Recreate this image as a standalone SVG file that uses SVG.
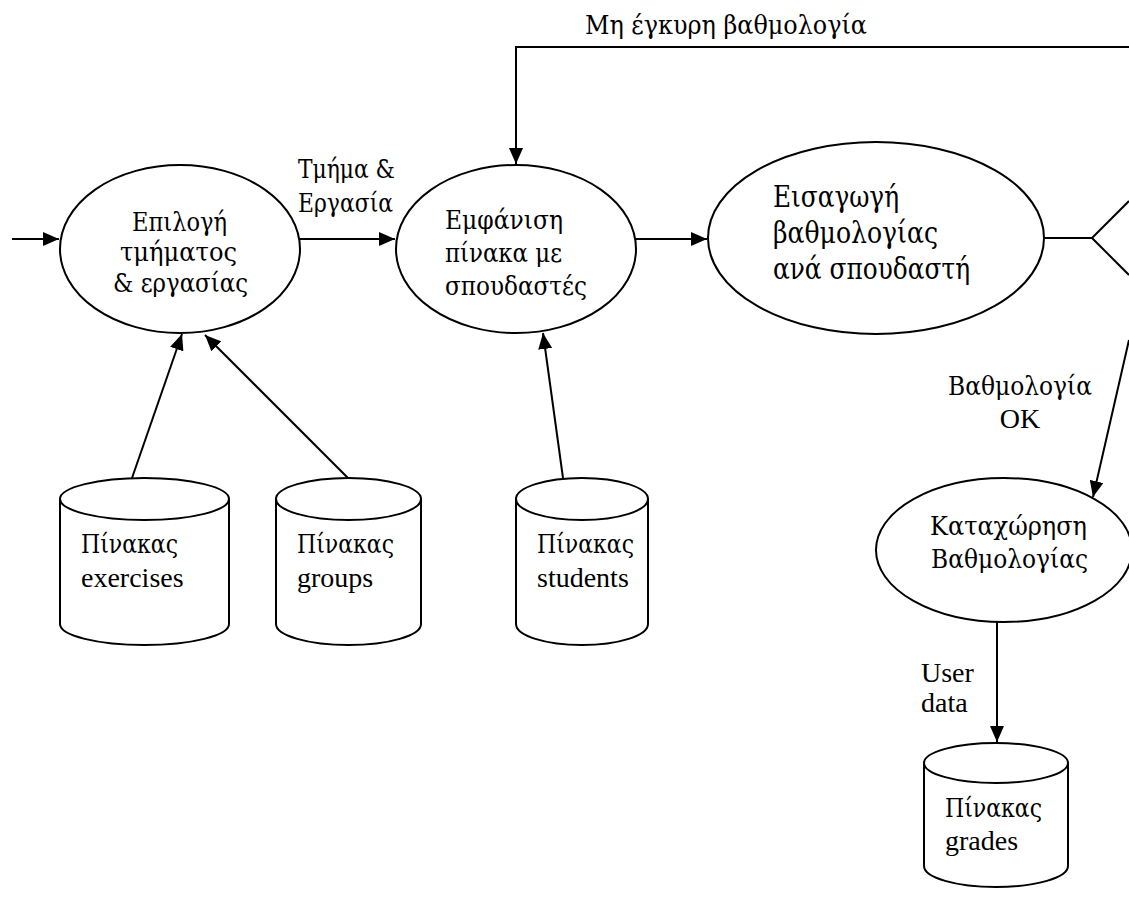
<svg xmlns="http://www.w3.org/2000/svg" width="1129" height="905" viewBox="0 0 1129 905">
<style>
.shape{fill:#fff;stroke:#000;stroke-width:2}
.ln{fill:none;stroke:#000;stroke-width:2}
text{font-family:"Liberation Serif","Times New Roman",serif;font-size:28px;fill:#000}
.gr{font-family:"DejaVu Serif","Liberation Serif",serif;font-size:26px}
.big{font-size:29px}
.c{text-anchor:middle}
</style>
<defs>
<marker id="arr" markerWidth="16" markerHeight="14" refX="16" refY="7" orient="auto" markerUnits="userSpaceOnUse">
<path d="M0,0 L16,7 L0,14 z" fill="#000"/>
</marker>
</defs>
<rect width="1129" height="905" fill="#fff"/>
<g id="connectors">
<path class="ln" d="M12,239 H59" marker-end="url(#arr)"/>
<path class="ln" d="M300,239 H395" marker-end="url(#arr)"/>
<path class="ln" d="M636,239 H707" marker-end="url(#arr)"/>
<path class="ln" d="M1129,47 H516 V164" marker-end="url(#arr)"/>
<path class="ln" d="M1044,238 H1092 L1129,201 M1092,238 L1129,275"/>
<path class="ln" d="M1129,340 L1093,497" marker-end="url(#arr)"/>
<path class="ln" d="M997,622 V742" marker-end="url(#arr)"/>
<path class="ln" d="M132,478 L182,334" marker-end="url(#arr)"/>
<path class="ln" d="M348,478 L205,335" marker-end="url(#arr)"/>
<path class="ln" d="M563,478 L543,333" marker-end="url(#arr)"/>
<text x="585" y="34" class="gr" textLength="282" lengthAdjust="spacingAndGlyphs">Μη έγκυρη βαθμολογία</text>
<text x="298" y="178" class="gr" textLength="97" lengthAdjust="spacingAndGlyphs">Τμήμα &amp;</text>
<text x="298" y="212" class="gr" textLength="95" lengthAdjust="spacingAndGlyphs">Εργασία</text>
<text x="948" y="395" class="gr" textLength="144" lengthAdjust="spacingAndGlyphs">Βαθμολογία</text>
<text x="1020" y="428" class="c">OK</text>
<text x="921" y="682">User</text>
<text x="921" y="712">data</text>
</g>
<g id="n-epilogi">
<ellipse class="shape" cx="180" cy="249" rx="120" ry="84"/>
<text x="132" y="231" class="gr" textLength="95" lengthAdjust="spacingAndGlyphs">Επιλογή</text>
<text x="120" y="261" class="gr" textLength="117" lengthAdjust="spacingAndGlyphs">τμήματος</text>
<text x="113" y="292" class="gr" textLength="135" lengthAdjust="spacingAndGlyphs">&amp; εργασίας</text>
</g>
<g id="n-emfanisi">
<ellipse class="shape" cx="516" cy="249" rx="120" ry="84"/>
<text x="445" y="229" class="gr" textLength="118" lengthAdjust="spacingAndGlyphs">Εμφάνιση</text>
<text x="445" y="262" class="gr" textLength="117" lengthAdjust="spacingAndGlyphs">πίνακα με</text>
<text x="445" y="295" class="gr" textLength="142" lengthAdjust="spacingAndGlyphs">σπουδαστές</text>
</g>
<g id="n-eisagogi">
<ellipse class="shape" cx="876" cy="238" rx="168" ry="96"/>
<text x="773" y="207" class="gr big" textLength="126" lengthAdjust="spacingAndGlyphs">Εισαγωγή</text>
<text x="773" y="243" class="gr big" textLength="165" lengthAdjust="spacingAndGlyphs">βαθμολογίας</text>
<text x="773" y="279" class="gr big" textLength="197" lengthAdjust="spacingAndGlyphs">ανά σπουδαστή</text>
</g>
<g id="n-kataxorisi">
<ellipse class="shape" cx="1004" cy="550" rx="128" ry="72"/>
<text x="930" y="535" class="gr" textLength="157" lengthAdjust="spacingAndGlyphs">Καταχώρηση</text>
<text x="931" y="568" class="gr" textLength="157" lengthAdjust="spacingAndGlyphs">Βαθμολογίας</text>
</g>
<g id="db-exercises">
<path class="shape" d="M60,499 V624 A84.5,21 0 0,0 229,624 V499"/>
<ellipse class="shape" cx="144.5" cy="499" rx="84.5" ry="21"/>
<text x="81" y="553" class="gr" textLength="97" lengthAdjust="spacingAndGlyphs">Πίνακας</text>
<text x="81" y="587">exercises</text>
</g>
<g id="db-groups">
<path class="shape" d="M276,499 V624 A72.5,21 0 0,0 421,624 V499"/>
<ellipse class="shape" cx="348.5" cy="499" rx="72.5" ry="21"/>
<text x="297" y="553" class="gr" textLength="97" lengthAdjust="spacingAndGlyphs">Πίνακας</text>
<text x="297" y="587">groups</text>
</g>
<g id="db-students">
<path class="shape" d="M516,499 V624 A66,21 0 0,0 648,624 V499"/>
<ellipse class="shape" cx="582" cy="499" rx="66" ry="21"/>
<text x="537" y="553" class="gr" textLength="97" lengthAdjust="spacingAndGlyphs">Πίνακας</text>
<text x="537" y="587">students</text>
</g>
<g id="db-grades">
<path class="shape" d="M924,763 V866 A72,21 0 0,0 1068,866 V763"/>
<ellipse class="shape" cx="996" cy="763" rx="72" ry="20"/>
<text x="945" y="817" class="gr" textLength="97" lengthAdjust="spacingAndGlyphs">Πίνακας</text>
<text x="945" y="850">grades</text>
</g>
</svg>
